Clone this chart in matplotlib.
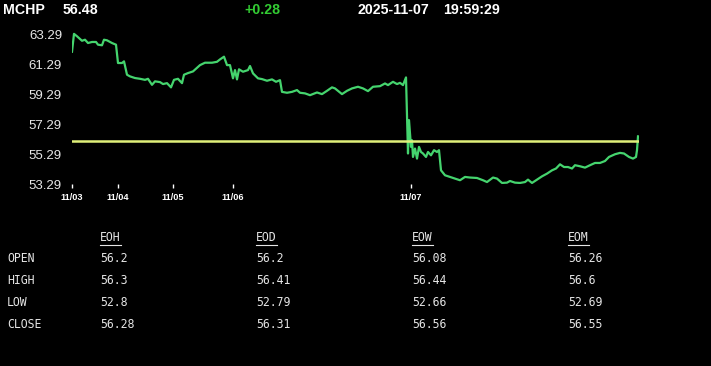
import matplotlib
matplotlib.use("Agg")
import matplotlib.pyplot as plt
from matplotlib.lines import Line2D

# Header info
symbol = "MCHP"
last_price = "56.48"
change = "+0.28"
date_str = "2025-11-07"
time_str = "19:59:29"
prev_close = 56.20

# Intraday samples (sample index, price)
idx = [0, 2, 5, 10, 13, 16, 20, 24, 26, 30, 32, 35, 40, 44, 46, 50, 52, 55, 58, 63,
       68, 73, 76, 80, 83, 88, 91, 95, 99, 102, 106, 110, 112, 116, 121, 128, 133, 140, 145, 148,
       152, 155, 158, 161, 163, 165, 167, 171, 176, 178, 181, 186, 190, 195, 200, 204, 208, 210, 215, 220,
       225, 228, 233, 238, 245, 250, 255, 260, 263, 270, 275, 280, 286, 291, 296, 301, 308, 313, 316, 321,
       325, 328, 331, 334, 336, 337, 339, 340, 341, 343, 345, 347, 349, 351, 354, 356, 359, 362, 365, 367,
       369, 373, 378, 383, 388, 393, 398, 405, 411, 415, 421, 425, 430, 435, 438, 443, 448, 453, 456, 460,
       465, 470, 475, 480, 484, 488, 492, 496, 500, 503, 508, 513, 518, 523, 528, 533, 537, 543, 548, 552,
       557, 561, 564, 565, 566]
price = [62.11, 63.30, 63.14, 62.84, 62.91, 62.69, 62.76, 62.76, 62.58, 62.54, 62.91, 62.87, 62.69, 62.58, 61.36, 61.36, 61.47, 60.58, 60.47, 60.36,
         60.31, 60.24, 60.31, 59.91, 60.14, 60.09, 59.96, 60.02, 59.74, 60.24, 60.31, 60.02, 60.58, 60.69, 60.80, 61.22, 61.38, 61.38, 61.44, 61.60,
         61.78, 61.22, 61.22, 60.34, 60.89, 60.27, 60.94, 60.78, 60.89, 61.16, 60.67, 60.34, 60.29, 60.18, 60.27, 60.11, 60.22, 59.44, 59.38, 59.44,
         59.56, 59.38, 59.34, 59.22, 59.40, 59.29, 59.51, 59.74, 59.67, 59.29, 59.51, 59.67, 59.78, 59.67, 59.49, 59.78, 59.82, 60.00, 59.89, 60.11,
         59.96, 60.04, 59.89, 60.40, 55.34, 57.56, 55.78, 56.22, 55.11, 55.67, 55.00, 55.78, 55.44, 55.34, 55.11, 55.44, 55.22, 55.56, 55.44, 55.56,
         54.22, 53.89, 53.78, 53.67, 53.56, 53.78, 53.74, 53.71, 53.56, 53.44, 53.74, 53.67, 53.38, 53.40, 53.51, 53.40, 53.38, 53.44, 53.60, 53.38,
         53.60, 53.82, 54.00, 54.22, 54.34, 54.62, 54.44, 54.44, 54.34, 54.56, 54.49, 54.40, 54.56, 54.71, 54.71, 54.84, 55.11, 55.29, 55.38, 55.34,
         55.11, 55.00, 55.11, 55.56, 56.48]

date_ticks = [0, 46, 101, 161, 339]
date_labels = ["11/03", "11/04", "11/05", "11/06", "11/07"]
price_ticks = [53.29, 55.29, 57.29, 59.29, 61.29, 63.29]

# Summary table
col_names = ["EOH", "EOD", "EOW", "EOM"]
row_names = ["OPEN", "HIGH", "LOW", "CLOSE"]
open_vals = ["56.2", "56.2", "56.08", "56.26"]
high_vals = ["56.3", "56.41", "56.44", "56.6"]
low_vals = ["52.8", "52.79", "52.66", "52.69"]
close_vals = ["56.28", "56.31", "56.56", "56.55"]
table_rows = [open_vals, high_vals, low_vals, close_vals]

W, H = 711, 366
fig = plt.figure(figsize=(W / 100, H / 100), dpi=100, facecolor="black")

# chart area, pixel box: x 72..638, y 31..184
ax = fig.add_axes([72 / W, 1 - 184.3 / H, 567 / W, (184.3 - 30.85) / H])
ax.set_facecolor("black")
ax.plot(idx, price, color="#45d46e", lw=1.6, solid_joinstyle="round")
ax.axhline(prev_close, color="#e0f07a", lw=1.8)
ax.set_xlim(0, 567)
ax.set_ylim(53.29, 63.5)
for s in ax.spines.values():
    s.set_visible(False)

ax.set_yticks(price_ticks)
ax.set_yticklabels([f"{v:.2f}" for v in price_ticks])
ax.tick_params(axis="y", length=0, pad=7.2, labelcolor="#e8e8e8", labelsize=9.5)
ax.set_xticks(date_ticks)
ax.set_xticklabels(date_labels)
ax.tick_params(axis="x", length=3, width=1, color="white", pad=3,
               labelcolor="white", labelsize=6.6)
for lab in ax.get_yticklabels():
    lab.set_family("Liberation Sans")
for lab in ax.get_xticklabels():
    lab.set_family("Liberation Sans")
    lab.set_fontweight("bold")

# header line
hy = 1 - 10.5 / H
hkw = dict(va="center", ha="left", fontsize=10.2, fontweight="bold", family="Liberation Sans")
fig.text(3 / W, hy, symbol, color="white", **hkw)
fig.text(63 / W, hy, last_price, color="white", **hkw)
fig.text(244 / W, hy, change, color="#33cc33", **hkw)
fig.text(358 / W, hy, date_str, color="white", **hkw)
fig.text(443 / W, hy, time_str, color="white", **hkw)

# table
col_x = [100, 256, 412, 568]
row_y = [259, 280, 302, 324]
head_y = 238
tkw = dict(va="center", ha="left", fontsize=8.3, family="DejaVu Sans Mono", color="#e6e6e6")
headers = []
for cx, name in zip(col_x, col_names):
    headers.append(fig.text(cx / W, 1 - head_y / H, name, **tkw))
for ry, rname, vals in zip(row_y, row_names, table_rows):
    fig.text(7 / W, 1 - ry / H, rname, **tkw)
    for cx, v in zip(col_x, vals):
        fig.text(cx / W, 1 - ry / H, v, **tkw)

# underline the column headers
fig.canvas.draw()
r = fig.canvas.get_renderer()
for t in headers:
    bb = t.get_window_extent(r)
    yl = (bb.y0 - 1) / H
    fig.add_artist(Line2D([bb.x0 / W, bb.x1 / W], [yl, yl], color="#e6e6e6", lw=0.8))

fig.savefig("out.png", dpi=100, facecolor="black")
